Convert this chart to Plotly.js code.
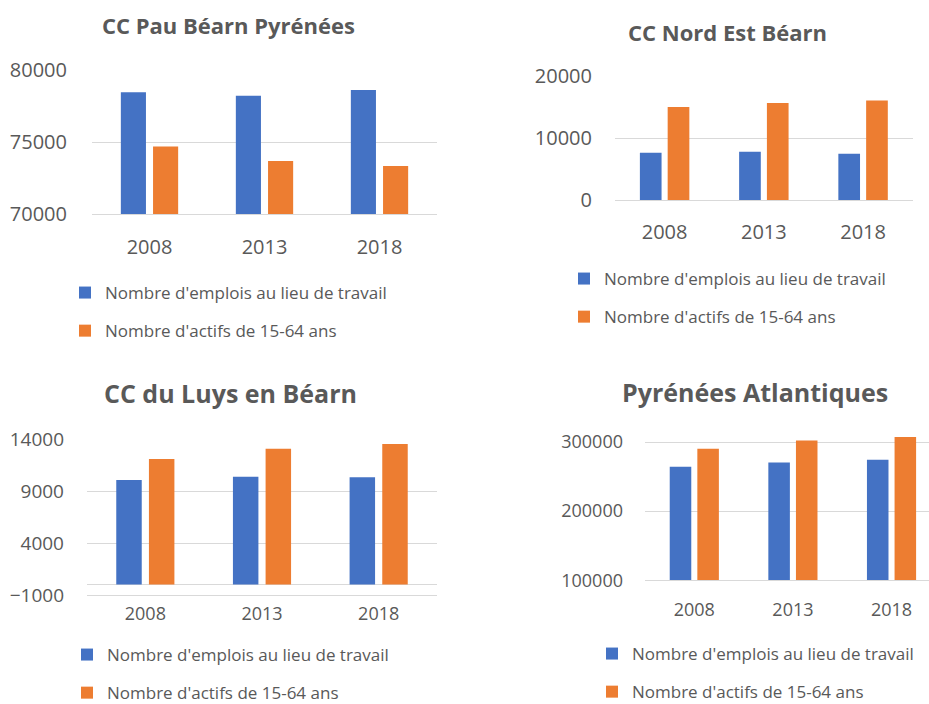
<!DOCTYPE html>
<html>
<head>
<meta charset="utf-8">
<script src="https://cdn.plot.ly/plotly-3.0.1.min.js"></script>
<style>html,body{margin:0;padding:0;background:#fff;overflow:hidden;}#chart{width:929px;height:704px;}</style>
</head>
<body>
<div id="chart"></div>
<script>
// ---- data ----
const years = ['2008', '2013', '2018'];
const seriesNames = ["Nombre d'emplois au lieu de travail", "Nombre d'actifs de 15-64 ans"];
const panelTitles = ['CC Pau Béarn Pyrénées', 'CC Nord Est Béarn', 'CC du Luys en Béarn', 'Pyrénées Atlantiques'];
const pauEmplois = [78450, 78220, 78610];
const pauActifs = [74680, 73680, 73330];
const nordEstEmplois = [7630, 7790, 7470];
const nordEstActifs = [15050, 15700, 16080];
const luysEmplois = [10060, 10380, 10320];
const luysActifs = [12080, 13070, 13520];
const paEmplois = [264200, 270500, 274300];
const paActifs = [290200, 302300, 307100];

const W = 929, H = 704;
const BLUE = '#4472C4', ORANGE = '#ED7D31', GRID = '#D9D9D9', TXT = '#595959';
const FONT = '"Open Sans", sans-serif';
const fx = p => p / W;
const fy = p => 1 - p / H;

const panels = [
  {emp: pauEmplois, act: pauActifs, xd: [92, 437], yd: [214, 70], yr: [70000, 80000], tick0: 70000, dtick: 5000, xr: [-0.5, 2.5],
   title: [228, 25, 22], tickSize: 20, catSize: 20, yStand: 24, xStand: 15, leg: [82, 292]},
  {emp: nordEstEmplois, act: nordEstActifs, xd: [615, 912.7], yd: [200, 76.3], yr: [0, 20000], tick0: 0, dtick: 10000, xr: [-0.5, 2.5],
   title: [727, 32, 22], tickSize: 20, catSize: 20, yStand: 22, xStand: 14, leg: [581, 278]},
  {emp: luysEmplois, act: luysActifs, xd: [87, 437], yd: [595, 439], yr: [-1000, 14000], tick0: -1000, dtick: 5000, xr: [-0.5, 2.5],
   title: [230, 393, 25], tickSize: 19, catSize: 18, yStand: 22, xStand: 2, leg: [84, 654]},
  {emp: paEmplois, act: paActifs, xd: [645, 929], yd: [580.3, 435.1], yr: [100000, 310000], tick0: 100000, dtick: 100000, xr: [-0.5, 2.38],
   title: [755, 392, 25], tickSize: 18, catSize: 18, yStand: 21, xStand: 13, leg: [609, 653]}
];

const data = [];
const layout = {
  width: W, height: H,
  margin: {l: 0, r: 0, t: 0, b: 0, autoexpand: false},
  paper_bgcolor: '#fff', plot_bgcolor: '#fff',
  font: {family: FONT, color: TXT},
  barmode: 'group', bargap: 0.44, bargroupgap: 0.22,
  showlegend: true,
  annotations: []
};

panels.forEach((p, i) => {
  const n = i === 0 ? '' : String(i + 1);
  const legName = 'legend' + n;
  data.push({type: 'bar', x: years, y: p.emp, name: seriesNames[0], marker: {color: BLUE, line: {width: 0}},
    xaxis: 'x' + n, yaxis: 'y' + n, legend: legName, legendgroup: 'e' + i, hoverinfo: 'skip'});
  data.push({type: 'bar', x: years, y: p.act, name: seriesNames[1], marker: {color: ORANGE, line: {width: 0}},
    xaxis: 'x' + n, yaxis: 'y' + n, legend: legName, legendgroup: 'a' + i, hoverinfo: 'skip'});
  layout['xaxis' + n] = {
    domain: [fx(p.xd[0]), fx(p.xd[1])], anchor: 'y' + n, type: 'category', range: p.xr,
    showgrid: false, zeroline: false, showline: true, linecolor: GRID, linewidth: 1, automargin: false,
    ticks: '', ticklabelstandoff: p.xStand, tickfont: {size: p.catSize, color: TXT, family: FONT}, fixedrange: true
  };
  layout['yaxis' + n] = {
    domain: [fy(p.yd[0]), fy(p.yd[1])], anchor: 'x' + n, range: p.yr, tick0: p.tick0, dtick: p.dtick, tickmode: 'linear',
    tickformat: 'd', showgrid: true, gridcolor: GRID, gridwidth: 1, zeroline: true, zerolinecolor: GRID, zerolinewidth: 1,
    showline: false, ticks: '', ticklabelstandoff: p.yStand, automargin: false, tickfont: {size: p.tickSize, color: TXT, family: FONT}, fixedrange: true
  };
  layout[legName] = {
    x: fx(p.leg[0] - 17), y: fy(p.leg[1] - 17), xanchor: 'left', yanchor: 'top', xref: 'paper', yref: 'paper',
    orientation: 'v', bgcolor: 'rgba(0,0,0,0)', borderwidth: 0, tracegroupgap: 13,
    font: {size: 17, color: TXT, family: FONT}, itemclick: false, itemdoubleclick: false
  };
  layout.annotations.push({
    text: '<b>' + panelTitles[i] + '</b>', x: fx(p.title[0]), y: fy(p.title[1]), xref: 'paper', yref: 'paper',
    xanchor: 'center', yanchor: 'middle', showarrow: false, font: {size: p.title[2], color: TXT, family: FONT}
  });
});

Plotly.newPlot('chart', data, layout, {staticPlot: true, displayModeBar: false});
</script>
</body>
</html>
